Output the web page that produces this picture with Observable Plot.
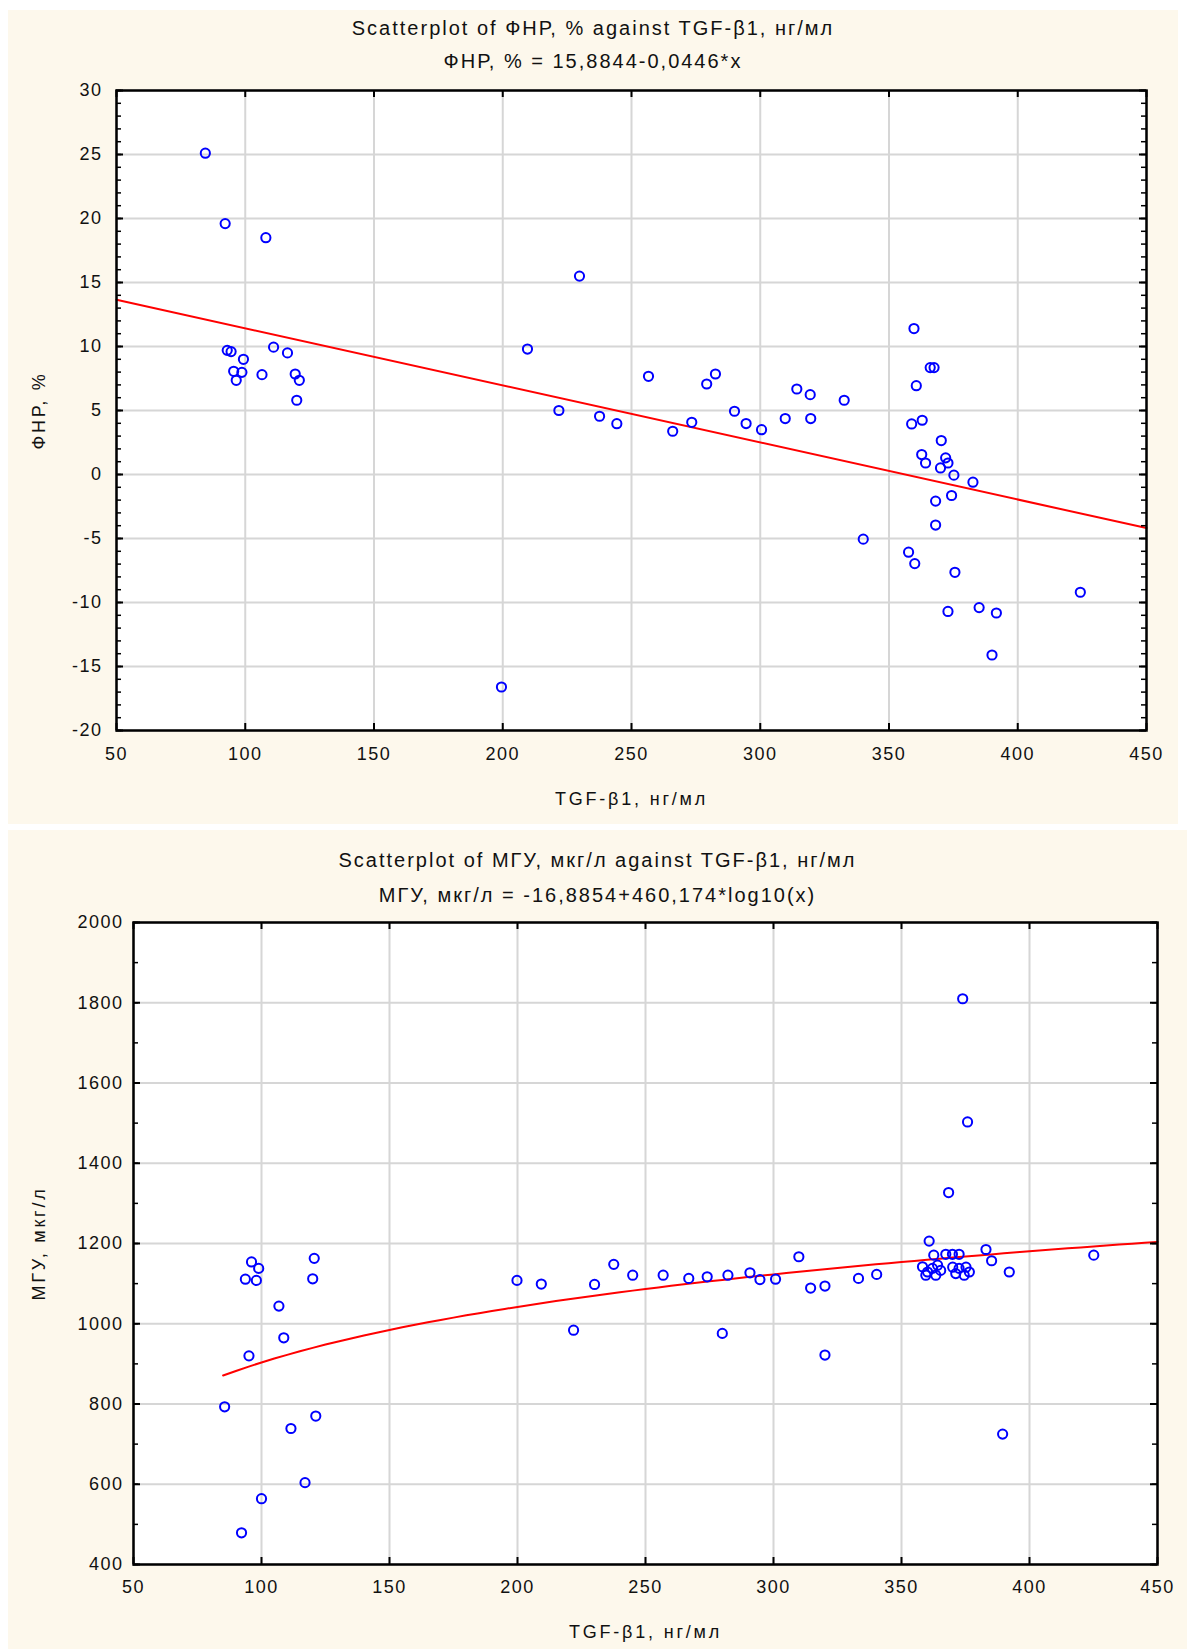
<!DOCTYPE html>
<html>
<head>
<meta charset="utf-8">
<script src="https://cdn.jsdelivr.net/npm/d3@7"></script>
<script src="https://cdn.jsdelivr.net/npm/@observablehq/plot@0.6"></script>
<style>
  body { margin: 0; background: #ffffff; }
  #root { position: relative; width: 1187px; height: 1649px; background: #ffffff; overflow: hidden;
          font-family: "Liberation Sans", Arial, sans-serif; }
  .panel { position: absolute; background: #fdf8ec; }
  .panel svg { position: absolute; left: 0; top: 0; }
  .panel svg g[aria-label="text"] { letter-spacing: 2.8px; }
  .title { position: absolute; left: 0; right: 0; text-align: center; font-size: 20px; line-height: 20px;
           letter-spacing: 2px; color: #111; white-space: nowrap; }
</style>
</head>
<body>
<div id="root">
  <div class="panel" id="p1" style="left:8px;top:10px;width:1170px;height:814px;">
    <div class="title" style="top:8px;">Scatterplot of ФНР, % against TGF-β1, нг/мл</div>
    <div class="title" style="top:41px;">ФНР, % = 15,8844-0,0446*x</div>
  </div>
  <div class="panel" id="p2" style="left:8px;top:830px;width:1179px;height:819px;">
    <div class="title" style="top:20px;">Scatterplot of МГУ, мкг/л against TGF-β1, нг/мл</div>
    <div class="title" style="top:55px;">МГУ, мкг/л = -16,8854+460,174*log10(x)</div>
  </div>
</div>
<script>
// ---------- data: chart 1 (ФНР, % vs TGF-β1) ----------
const fnrX = [84.5, 92.2, 108, 93, 94.5, 111, 116.4, 99.3, 95.5, 98.7, 96.5, 106.5, 119.4, 121, 120,
  199.5, 229.8, 209.6, 221.8, 237.6, 244.3, 256.6, 266, 273.4, 279.2, 282.6, 290, 294.5, 300.5, 309.7,
  314.2, 319.4, 319.6, 332.6, 340, 359.7, 366, 367.5, 360.6, 358.8, 362.9, 370.3, 362.7, 364.2, 372,
  372.9, 370, 375.2, 382.6, 374.3, 368.1, 368.1, 357.6, 360, 375.6, 424.3, 372.9, 385, 391.7, 390];
const fnrY = [25.1, 19.6, 18.5, 9.7, 9.6, 9.95, 9.5, 9.0, 8.06, 7.98, 7.36, 7.8, 7.85, 7.36, 5.8,
  -16.6, 15.5, 9.8, 5.0, 4.55, 3.97, 7.67, 3.38, 4.08, 7.07, 7.85, 4.94, 3.98, 3.5, 4.37,
  6.68, 6.24, 4.37, 5.8, -5.05, 11.4, 8.35, 8.35, 6.94, 3.95, 4.24, 2.65, 1.56, 0.9, 1.3,
  0.9, 0.51, -0.05, -0.6, -1.64, -2.08, -3.95, -6.07, -6.96, -7.64, -9.2, -10.7, -10.4, -10.82, -14.1];
const fnrFit = {a: 15.8844, b: -0.0446};

// ---------- data: chart 2 (МГУ, мкг/л vs TGF-β1) ----------
const mguX = [96.1, 98.9, 93.7, 98, 120.6, 120, 106.8, 108.7, 95.1, 85.6, 121.2, 111.5, 117, 100, 92.2,
  199.8, 209.3, 221.9, 230.1, 237.6, 245, 256.9, 266.9, 274.1, 282.2, 280, 290.8, 294.7, 300.8, 309.9,
  314.5, 320.1, 320.1, 333.2, 340.3, 373.9, 375.8, 368.4, 360.8, 383, 385.2, 392.1, 425.1, 389.5,
  362.6, 367.3, 369.9, 372.5, 358.2, 360.2, 362.1, 364.1, 359.5, 363.4, 365.3, 370, 372.5, 375.2, 371.2, 374.5, 376.5];
const mguY = [1154, 1138, 1111, 1108, 1163, 1112, 1044, 965, 920, 793, 770, 739, 604, 564, 479,
  1108, 1099, 984, 1098, 1148, 1121, 1121, 1113, 1117, 1121, 976, 1127, 1110, 1111, 1167,
  1089, 1094, 922, 1113, 1123, 1810, 1503, 1327, 1206, 1185, 1157, 1129, 1171, 725,
  1171, 1173, 1173, 1173, 1142, 1129, 1138, 1146, 1121, 1121, 1133, 1141, 1138, 1141, 1125, 1121, 1129];
const mguFit = {a: -16.8854, b: 460.174};

// ---------- tick labels ----------
const xTicks = [50, 100, 150, 200, 250, 300, 350, 400, 450];
const fnrTicks = [-20, -15, -10, -5, 0, 5, 10, 15, 20, 25, 30];
const mguTicks = [400, 600, 800, 1000, 1200, 1400, 1600, 1800, 2000];
const xLabel = "TGF-β1, нг/мл";

const FONT = '"Liberation Sans", Arial, sans-serif';
const GRID = "#d6d6d6";
const INK = "#111111";
const fmt = d => `${d}`;

function chart(o) {
  const innerW = o.width - o.ml - o.mr;
  const innerH = o.height - o.mt - o.mb;
  const pts = o.xs.map((x, i) => ({x, y: o.ys[i]}));
  return Plot.plot({
    width: o.width, height: o.height,
    marginLeft: o.ml, marginRight: o.mr, marginTop: o.mt, marginBottom: o.mb,
    style: {background: "transparent", fontFamily: FONT, fontSize: "18px", letterSpacing: "1.5px", color: INK},
    x: {domain: [50, 450]},
    y: {domain: o.yDomain},
    marks: [
      Plot.frame({fill: "#ffffff", stroke: "none"}),
      Plot.gridX(xTicks, {stroke: GRID, strokeOpacity: 1, strokeWidth: 2}),
      Plot.gridY(o.yTicks, {stroke: GRID, strokeOpacity: 1, strokeWidth: 2}),
      Plot.line(o.fitPts, {x: "x", y: "y", stroke: "#ff0000", strokeWidth: 2}),
      Plot.dot(pts, {x: "x", y: "y", r: 4.6, stroke: "#0000ff", strokeWidth: 2, fill: "none"}),
      Plot.frame({stroke: "#000000", strokeWidth: 2.5}),
      // inward tick marks
      Plot.tickY(o.yMinor, {y: d => d, insetRight: innerW - 5, stroke: "#000", strokeWidth: 1.5}),
      Plot.tickY(o.yMinor, {y: d => d, insetLeft: innerW - 5, stroke: "#000", strokeWidth: 1.5}),
      Plot.tickY(o.yTicks, {y: d => d, insetRight: innerW - 7, stroke: "#000", strokeWidth: 2}),
      Plot.tickY(o.yTicks, {y: d => d, insetLeft: innerW - 7, stroke: "#000", strokeWidth: 2}),
      Plot.tickX(xTicks, {x: d => d, insetTop: innerH - 7, stroke: "#000", strokeWidth: 2}),
      Plot.tickX(xTicks, {x: d => d, insetBottom: innerH - 7, stroke: "#000", strokeWidth: 2}),
      Plot.axisX(xTicks, {tickSize: 0, tickPadding: o.xTickPad, fontSize: 18, label: null, fill: INK, tickFormat: fmt}),
      Plot.axisY(o.yTicks, {tickSize: 0, tickPadding: o.yTickPad, fontSize: 18, label: null, fill: INK, tickFormat: fmt}),
      Plot.text([xLabel], {frameAnchor: "bottom", dy: o.xLabelDy, lineAnchor: "middle", textAnchor: "middle",
        fontSize: 18, fill: INK}),
      Plot.text([o.yLabel], {frameAnchor: "left", dx: o.yLabelDx, rotate: -90, lineAnchor: "middle",
        textAnchor: "middle", fontSize: 18, fill: INK})
    ]
  });
}

// fitted lines from the equations printed in the subtitles
const fnrFitPts = [50, 450].map(x => ({x, y: fnrFit.a + fnrFit.b * x}));
const mguFitPts = d3.range(85, 451, 5).map(x => ({x, y: mguFit.a + mguFit.b * Math.log10(x)}));

document.getElementById("p1").prepend(chart({
  xs: fnrX, ys: fnrY, yDomain: [-20, 30], yTicks: fnrTicks, yMinor: d3.range(-20, 31, 1),
  yLabel: "ФНР, %", fitPts: fnrFitPts,
  width: 1170, height: 814, ml: 108, mr: 32, mt: 80, mb: 94,
  yTickPad: 14, xTickPad: 17, yLabelDx: -77, xLabelDy: 69
}));

document.getElementById("p2").prepend(chart({
  xs: mguX, ys: mguY, yDomain: [400, 2000], yTicks: mguTicks, yMinor: d3.range(400, 2001, 100),
  yLabel: "МГУ, мкг/л", fitPts: mguFitPts,
  width: 1179, height: 819, ml: 125, mr: 30, mt: 92, mb: 85,
  yTickPad: 10, xTickPad: 16, yLabelDx: -94, xLabelDy: 68
}));
</script>
</body>
</html>
